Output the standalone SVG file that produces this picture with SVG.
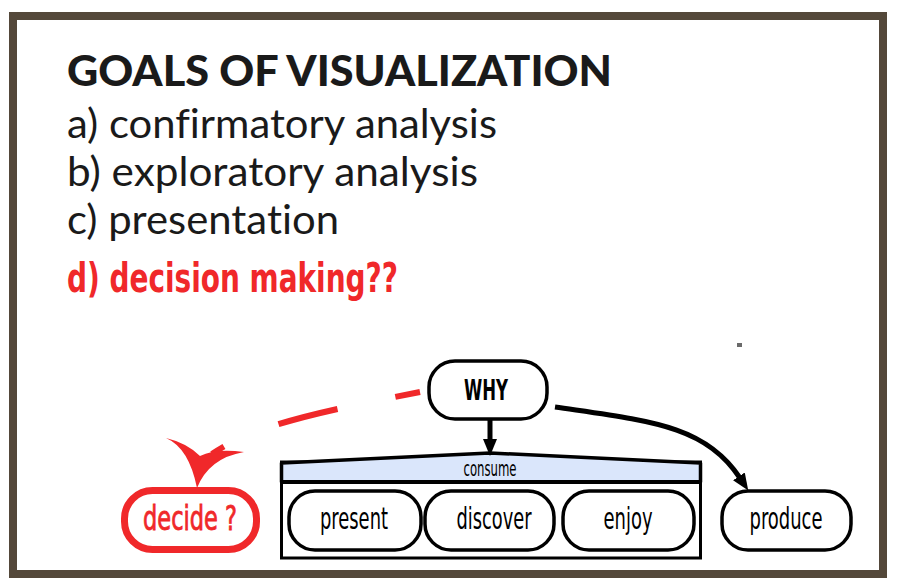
<svg xmlns="http://www.w3.org/2000/svg" width="899" height="587" viewBox="0 0 899 587">
  <style>
    .frame { fill: #ffffff; stroke: #54483a; stroke-width: 8; }
    .heading { font-family: Lato, "Liberation Sans", sans-serif; fill: #1a1a1a; font-variant-ligatures: none; }
    .title { font-size: 42px; font-weight: 900; }
    .item { font-size: 40px; font-weight: normal; }
    .red-item { font-family: "Liberation Sans Narrow", "DejaVu Sans Condensed", sans-serif; font-size: 41px; font-weight: bold; fill: #f0282a; }
    .pill { fill: #ffffff; stroke: #000000; stroke-width: 3.5; }
    .label { font-family: "Liberation Sans Narrow", "DejaVu Sans Condensed", sans-serif; font-size: 31px; fill: #000000; text-anchor: middle; }
    .why { font-weight: bold; font-size: 28px; }
    .small { font-size: 21px; }
    .decide-pill { fill: #ffffff; stroke: #f0282a; stroke-width: 7; }
    .decide-label { fill: #f0282a; stroke: #f0282a; stroke-width: 0.8; font-size: 34px; }
    .edge { fill: none; stroke: #000000; stroke-width: 5; }
    .dash { fill: none; stroke: #f0282a; stroke-width: 6; stroke-dasharray: 61 59; stroke-dashoffset: 36; }
  </style>
  <defs>
    <marker id="arrow" markerWidth="17" markerHeight="14" refX="2" refY="7" orient="auto" markerUnits="userSpaceOnUse">
      <path d="M0,0 L17,7 L0,14 Z" fill="#000000"/>
    </marker>
  </defs>

  <!-- outer frame -->
  <rect x="0" y="0" width="899" height="587" fill="#ffffff"/>
  <rect class="frame" x="13" y="16" width="870" height="558"/>

  <!-- heading and list -->
  <g id="heading" class="heading">
    <text class="title" x="67" y="86" textLength="545" lengthAdjust="spacingAndGlyphs">GOALS OF VISUALIZATION</text>
    <text class="item" x="67" y="138" textLength="430" lengthAdjust="spacingAndGlyphs">a) confirmatory analysis</text>
    <text class="item" x="67" y="186" textLength="411" lengthAdjust="spacingAndGlyphs">b) exploratory analysis</text>
    <text class="item" x="67" y="234" textLength="272" lengthAdjust="spacingAndGlyphs">c) presentation</text>
    <text class="red-item" x="67" y="292" textLength="331" lengthAdjust="spacingAndGlyphs">d) decision making??</text>
  </g>

  <!-- stray mark -->
  <rect x="737" y="343" width="5" height="4" fill="#6a6a6a"/>

  <!-- consume container -->
  <g id="consume">
    <rect x="281.5" y="462" width="419" height="96" fill="#ffffff" stroke="#000000" stroke-width="3"/>
    <path d="M281.5,482 L281.5,463 L490,453 L700.5,463 L700.5,482 Z" fill="#dae6fb" stroke="#000000" stroke-width="3.5" stroke-linejoin="round"/>
    <line x1="281.5" y1="482" x2="700.5" y2="482" stroke="#000000" stroke-width="4"/>
    <text class="label small" x="490" y="476" textLength="53" lengthAdjust="spacingAndGlyphs">consume</text>
  </g>

  <!-- nodes -->
  <g id="why">
    <rect class="pill" x="429" y="361" width="118" height="58" rx="26"/>
    <text class="label why" x="486" y="400" textLength="44" lengthAdjust="spacingAndGlyphs">WHY</text>
  </g>
  <g id="present">
    <rect class="pill" x="289" y="491" width="132" height="59" rx="26"/>
    <text class="label" x="354" y="529" textLength="68" lengthAdjust="spacingAndGlyphs">present</text>
  </g>
  <g id="discover">
    <rect class="pill" x="425" y="491" width="129" height="59" rx="26"/>
    <text class="label" x="494" y="529" textLength="75" lengthAdjust="spacingAndGlyphs">discover</text>
  </g>
  <g id="enjoy">
    <rect class="pill" x="563" y="491" width="131" height="59" rx="26"/>
    <text class="label" x="628" y="529" textLength="49" lengthAdjust="spacingAndGlyphs">enjoy</text>
  </g>
  <g id="produce">
    <rect class="pill" x="722" y="491" width="129" height="59" rx="26"/>
    <text class="label" x="786" y="529" textLength="73" lengthAdjust="spacingAndGlyphs">produce</text>
  </g>
  <g id="decide">
    <rect class="decide-pill" x="124.5" y="490.5" width="132" height="59" rx="28"/>
    <text class="label decide-label" x="190" y="530" textLength="94" lengthAdjust="spacingAndGlyphs">decide ?</text>
  </g>

  <!-- connectors -->
  <g id="connectors">
    <line class="edge" x1="490" y1="420" x2="490" y2="441" stroke-width="4.5" marker-end="url(#arrow)"/>
    <path class="edge" d="M555,407 C650,421 705,425 740,478" marker-end="url(#arrow)"/>
    <path class="dash" d="M420,392 C330,410 255,424 212,454"/>
    <path d="M166,438 Q189,448 197,488 Q209,458 244,452 Q216,448 200,456 Q187,443 166,438 Z" fill="#f0282a"/>
  </g>
</svg>
